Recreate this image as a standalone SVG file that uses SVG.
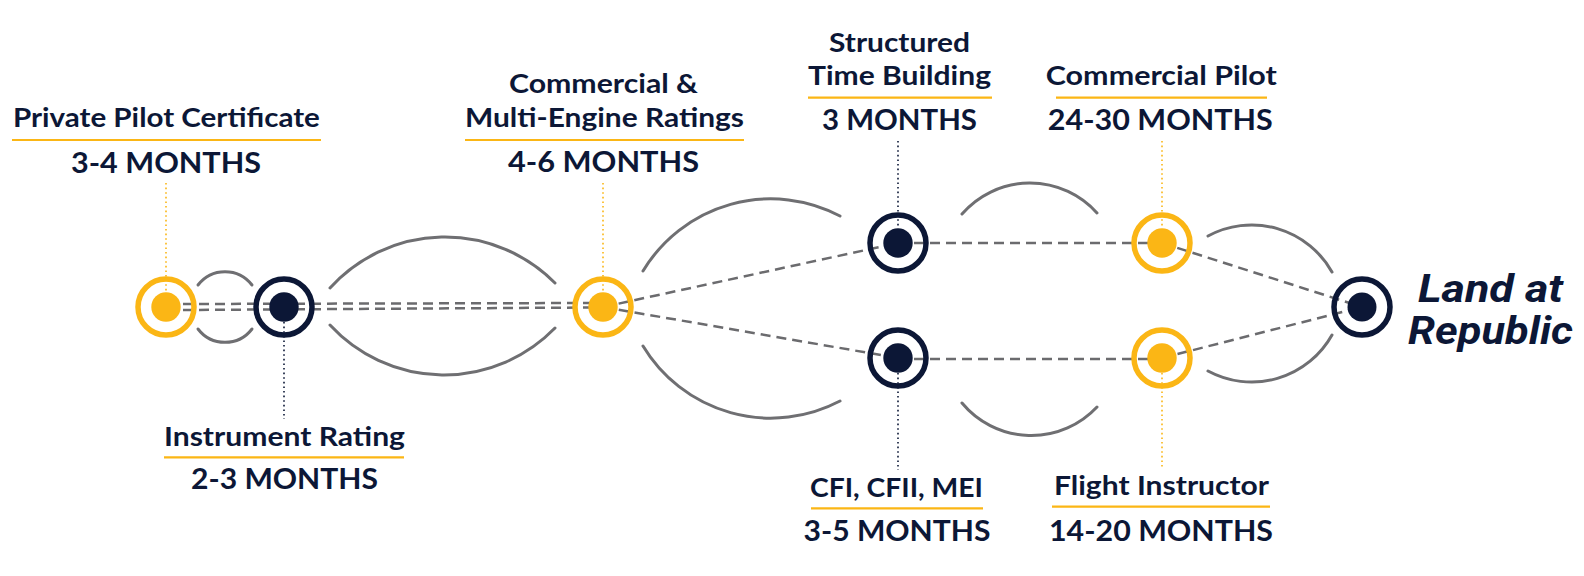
<svg xmlns="http://www.w3.org/2000/svg" width="1584" height="576" viewBox="0 0 1584 576">
<style>
.t{font-family:Lato,"Liberation Sans",sans-serif;font-weight:700;fill:#0c1736;text-anchor:middle}
.ti{font-size:26px}
.mo{font-size:29px}
.ul{stroke:#fbb615;stroke-width:2.2;fill:none}
.arc{stroke:#6f6f72;stroke-width:3;fill:none;stroke-linecap:round}
.dash{stroke:#6b6b6e;stroke-width:2.5;fill:none;stroke-dasharray:10 6}
.dy{stroke:#fbb615;stroke-width:1.6;fill:none;stroke-dasharray:1.6 3}
.dn{stroke:#0c1736;stroke-width:1.6;fill:none;stroke-dasharray:1.6 3}
.ry{stroke:#fbb615;stroke-width:5.5;fill:none}
.rn{stroke:#0c1736;stroke-width:5.5;fill:none}
.fy{fill:#fbb615}
.fn{fill:#0c1736}
.land{font-family:Roboto,"Open Sans","Liberation Sans",sans-serif;font-style:italic;font-weight:700;font-size:39px;fill:#0c1736;text-anchor:middle}
</style>
<rect width="1584" height="576" fill="#ffffff"/>
<g id="connectors">
<path class="arc" d="M198,285 A34,34 0 0 1 252,285"/>
<path class="arc" d="M198,329 A34,34 0 0 0 252,329"/>
<path class="arc" d="M330,288 A155,155 0 0 1 555,283"/>
<path class="arc" d="M330,325 A155,155 0 0 0 555,328"/>
<path class="arc" d="M643,271 A149,149 0 0 1 840,216"/>
<path class="arc" d="M643,346 A149,149 0 0 0 840,401"/>
<path class="arc" d="M962,214 A90,90 0 0 1 1097,213"/>
<path class="arc" d="M962,403 A90,90 0 0 0 1097,407"/>
<path class="arc" d="M1208,236 A92,92 0 0 1 1332,272"/>
<path class="arc" d="M1208,371 A92,92 0 0 0 1332,335"/>
<path class="dash" d="M183,304 L590,303"/>
<path class="dash" d="M183,310 L590,307.5"/>
<path class="dash" d="M603,307 L898,243"/>
<path class="dash" d="M603,307 L898,358"/>
<path class="dash" d="M898,243 L1162,243"/>
<path class="dash" d="M898,359 L1162,359"/>
<path class="dash" d="M1162,243 L1362,307"/>
<path class="dash" d="M1162,358 L1362,307"/>
<path class="dy" d="M166,183 V292"/>
<path class="dy" d="M603,183 V292"/>
<path class="dy" d="M1162,141 V228"/>
<path class="dy" d="M1162,373 V468"/>
<path class="dn" d="M284,322 V419"/>
<path class="dn" d="M898,141 V228"/>
<path class="dn" d="M898,373 V470"/>
</g>
<g id="private-pilot">
<circle class="ry" cx="166" cy="307" r="28"/>
<circle class="fy" cx="166" cy="307" r="14.7"/>
<text class="t ti" x="166.4" y="127" textLength="307" lengthAdjust="spacingAndGlyphs">Private Pilot Certificate</text>
<line class="ul" x1="12" y1="140" x2="321" y2="140"/>
<text class="t mo" x="166" y="172.7" textLength="190" lengthAdjust="spacingAndGlyphs">3-4 MONTHS</text>
</g>
<g id="instrument-rating">
<circle class="rn" cx="284" cy="307" r="28"/>
<circle class="fn" cx="284" cy="307" r="14.7"/>
<text class="t ti" x="284.5" y="446" textLength="241" lengthAdjust="spacingAndGlyphs">Instrument Rating</text>
<line class="ul" x1="164" y1="457.3" x2="404" y2="457.3"/>
<text class="t mo" x="284.5" y="489.3" textLength="187" lengthAdjust="spacingAndGlyphs">2-3 MONTHS</text>
</g>
<g id="commercial-multi">
<circle class="ry" cx="603" cy="307" r="28"/>
<circle class="fy" cx="603" cy="307" r="14.7"/>
<text class="t ti" x="603.5" y="93.3" textLength="189" lengthAdjust="spacingAndGlyphs">Commercial &amp;</text>
<text class="t ti" x="604.5" y="126.7" textLength="279" lengthAdjust="spacingAndGlyphs">Multi-Engine Ratings</text>
<line class="ul" x1="465" y1="140" x2="744" y2="140"/>
<text class="t mo" x="603.5" y="171.7" textLength="191" lengthAdjust="spacingAndGlyphs">4-6 MONTHS</text>
</g>
<g id="structured-time">
<circle class="rn" cx="898" cy="243" r="28"/>
<circle class="fn" cx="898" cy="243" r="14.7"/>
<text class="t ti" x="899.5" y="52.3" textLength="141" lengthAdjust="spacingAndGlyphs">Structured</text>
<text class="t ti" x="899.5" y="85" textLength="183" lengthAdjust="spacingAndGlyphs">Time Building</text>
<line class="ul" x1="808" y1="97.7" x2="992" y2="97.7"/>
<text class="t mo" x="899.5" y="130" textLength="155" lengthAdjust="spacingAndGlyphs">3 MONTHS</text>
</g>
<g id="cfi">
<circle class="rn" cx="898" cy="358" r="28"/>
<circle class="fn" cx="898" cy="358" r="14.7"/>
<text class="t ti" x="896.5" y="496.7" textLength="173" lengthAdjust="spacingAndGlyphs">CFI, CFII, MEI</text>
<line class="ul" x1="811" y1="508.3" x2="983" y2="508.3"/>
<text class="t mo" x="897" y="540.7" textLength="187" lengthAdjust="spacingAndGlyphs">3-5 MONTHS</text>
</g>
<g id="commercial-pilot">
<circle class="ry" cx="1162" cy="243" r="28"/>
<circle class="fy" cx="1162" cy="243" r="14.7"/>
<text class="t ti" x="1161.3" y="85" textLength="231" lengthAdjust="spacingAndGlyphs">Commercial Pilot</text>
<line class="ul" x1="1056" y1="97.7" x2="1267" y2="97.7"/>
<text class="t mo" x="1160.3" y="130" textLength="225" lengthAdjust="spacingAndGlyphs">24-30 MONTHS</text>
</g>
<g id="flight-instructor">
<circle class="ry" cx="1162" cy="358" r="28"/>
<circle class="fy" cx="1162" cy="358" r="14.7"/>
<text class="t ti" x="1161.5" y="495" textLength="215" lengthAdjust="spacingAndGlyphs">Flight Instructor</text>
<line class="ul" x1="1052" y1="506.7" x2="1270" y2="506.7"/>
<text class="t mo" x="1161" y="540.7" textLength="224" lengthAdjust="spacingAndGlyphs">14-20 MONTHS</text>
</g>
<g id="land-at-republic">
<circle class="rn" cx="1362" cy="307" r="28"/>
<circle class="fn" cx="1362" cy="307" r="14.5"/>
<text class="land" x="1490.5" y="301.7" textLength="145" lengthAdjust="spacingAndGlyphs">Land at</text>
<text class="land" x="1490.5" y="344" textLength="165" lengthAdjust="spacingAndGlyphs">Republic</text>
</g>
</svg>
